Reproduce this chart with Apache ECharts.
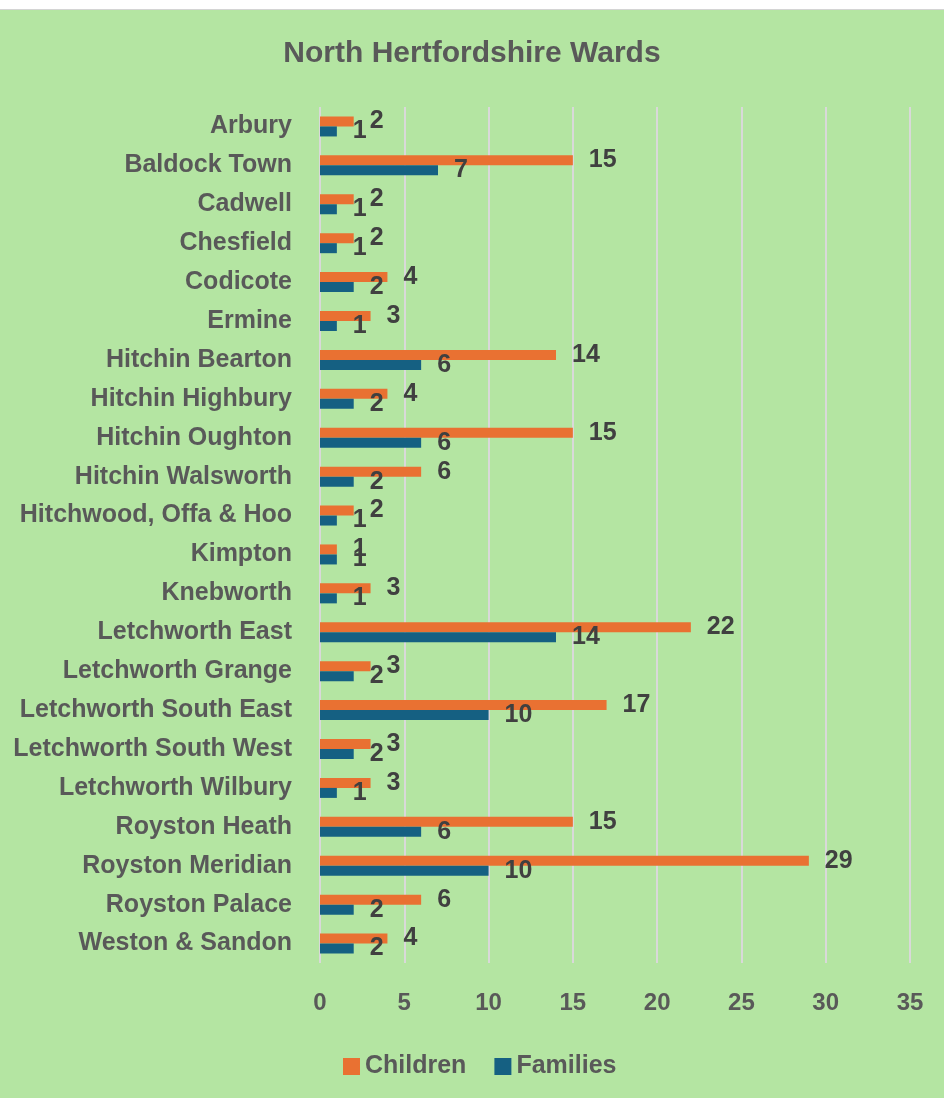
<!DOCTYPE html>
<html>
<head>
<meta charset="utf-8">
<script src="https://cdn.jsdelivr.net/npm/echarts@6/dist/echarts.min.js"></script>
<style>
  html, body { margin: 0; padding: 0; background: #fff; }
  #topline { position: absolute; left: 0; top: 9px; width: 944px; height: 1px; background: #d4d4d4; }
  #main { position: absolute; left: 0; top: 10px; width: 944px; height: 1088px; }
</style>
</head>
<body>
<div id="topline"></div>
<div id="main"></div>
<script>
// wards, top to bottom
var wards = ['Arbury', 'Baldock Town', 'Cadwell', 'Chesfield', 'Codicote', 'Ermine',
  'Hitchin Bearton', 'Hitchin Highbury', 'Hitchin Oughton', 'Hitchin Walsworth',
  'Hitchwood, Offa & Hoo', 'Kimpton', 'Knebworth', 'Letchworth East', 'Letchworth Grange',
  'Letchworth South East', 'Letchworth South West', 'Letchworth Wilbury', 'Royston Heath',
  'Royston Meridian', 'Royston Palace', 'Weston & Sandon'];
var children = [2, 15, 2, 2, 4, 3, 14, 4, 15, 6, 2, 1, 3, 22, 3, 17, 3, 3, 15, 29, 6, 4];
var families = [1, 7, 1, 1, 2, 1, 6, 2, 6, 2, 1, 1, 1, 14, 2, 10, 2, 1, 6, 10, 2, 2];

var font = "'Liberation Sans', Arial, sans-serif";

var myChart = echarts.init(document.getElementById('main'));
var option = {
  backgroundColor: '#b4e5a2',
  animation: false,
  textStyle: { fontFamily: font },
  title: {
    text: 'North Hertfordshire Wards',
    left: 'center',
    top: 24,
    textStyle: { fontSize: 30, fontWeight: 'bold', color: '#595959', fontFamily: font }
  },
  legend: {
    data: ['Children', 'Families'],
    left: 338,
    top: 1039,
    itemWidth: 17,
    itemHeight: 17,
    itemGap: 28,
    icon: 'rect',
    textStyle: { fontSize: 25, fontWeight: 'bold', color: '#595959', fontFamily: font }
  },
  grid: { left: 320, right: 34, top: 97, bottom: 135, containLabel: false },
  xAxis: {
    type: 'value',
    min: 0,
    max: 35,
    interval: 5,
    axisLine: { show: false },
    axisTick: { show: false },
    splitLine: { lineStyle: { color: '#d9d9d9', width: 2 } },
    axisLabel: { margin: 28, fontSize: 24, fontWeight: 'bold', color: '#595959', fontFamily: font }
  },
  yAxis: {
    type: 'category',
    data: wards,
    inverse: true,
    axisLine: { show: false },
    axisTick: { show: false },
    axisLabel: { margin: 28, fontSize: 25, fontWeight: 'bold', color: '#595959', fontFamily: font }
  },
  series: [
    {
      name: 'Children',
      type: 'bar',
      data: children,
      barWidth: 10,
      barGap: '0%',
      itemStyle: { color: '#e97132' },
      label: { show: true, position: 'right', distance: 16, fontSize: 25, fontWeight: 'bold', color: '#404040', fontFamily: font }
    },
    {
      name: 'Families',
      type: 'bar',
      data: families,
      barWidth: 10,
      barGap: '0%',
      itemStyle: { color: '#156082' },
      label: { show: true, position: 'right', distance: 16, fontSize: 25, fontWeight: 'bold', color: '#404040', fontFamily: font }
    }
  ]
};
myChart.setOption(option);
</script>
</body>
</html>
